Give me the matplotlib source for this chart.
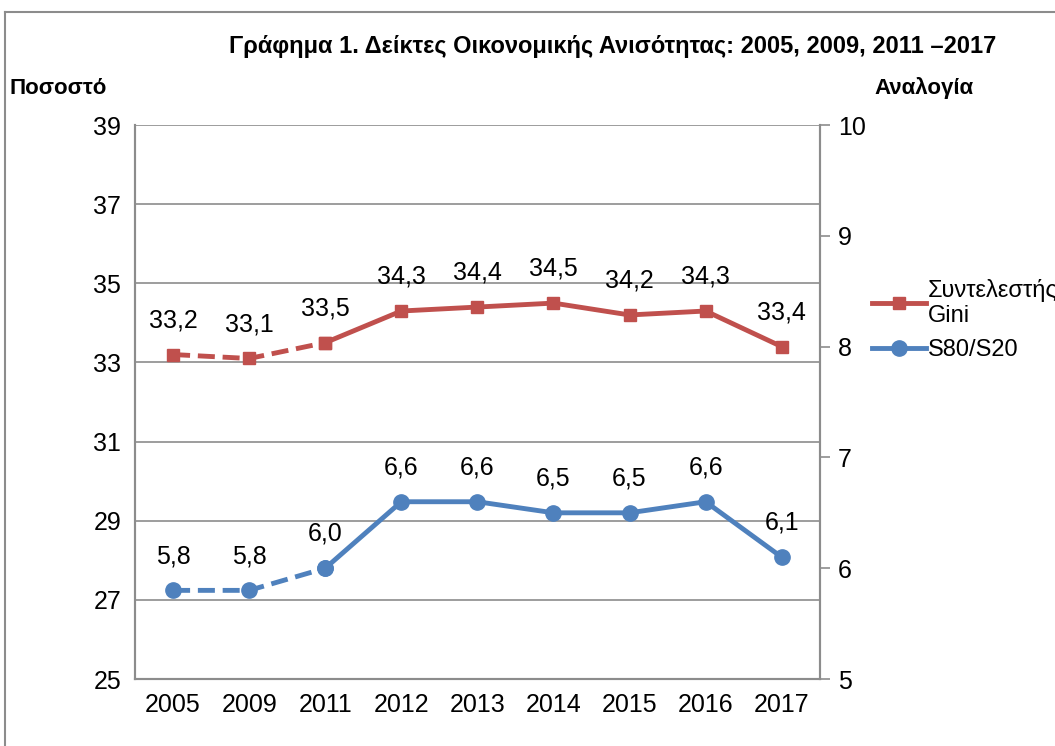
import matplotlib.pyplot as plt
from matplotlib.lines import Line2D

plt.rcParams['font.family'] = ['Liberation Sans', 'DejaVu Sans']

years = ['2005', '2009', '2011', '2012', '2013', '2014', '2015', '2016', '2017']
gini = [33.2, 33.1, 33.5, 34.3, 34.4, 34.5, 34.2, 34.3, 33.4]
s80s20 = [5.8, 5.8, 6.0, 6.6, 6.6, 6.5, 6.5, 6.6, 6.1]
dashed_until = 2  # 2005-2009-2011 drawn dashed

red = '#C0504D'
blue = '#4F81BD'
grey = '#8C8C8C'
dash = (0, (3.5, 1.6))

fig = plt.figure(figsize=(10.55, 7.46), dpi=100)
ax = fig.add_axes([0.128, 0.0898, 0.649, 0.7426])
ax2 = ax.twinx()

x = list(range(len(years)))

# Gini on left axis
ax.plot(x[:dashed_until + 1], gini[:dashed_until + 1], color=red, lw=3.5, ls=dash,
        marker='s', ms=9, zorder=3)
ax.plot(x[dashed_until:], gini[dashed_until:], color=red, lw=3.5, marker='s', ms=9, zorder=3)
for xi, v in zip(x, gini):
    ax.annotate(f'{v:.1f}'.replace('.', ','), (xi, v), xytext=(0, 16), textcoords='offset points',
                ha='center', va='bottom', fontsize=18)

# S80/S20 on right axis
ax2.plot(x[:dashed_until + 1], s80s20[:dashed_until + 1], color=blue, lw=3.5, ls=dash,
         marker='o', ms=11, zorder=3)
ax2.plot(x[dashed_until:], s80s20[dashed_until:], color=blue, lw=3.5, marker='o', ms=11, zorder=3)
for xi, v in zip(x, s80s20):
    ax2.annotate(f'{v:.1f}'.replace('.', ','), (xi, v), xytext=(0, 16), textcoords='offset points',
                 ha='center', va='bottom', fontsize=18)

ax.set_xlim(-0.5, len(years) - 0.5)
ax.set_ylim(25, 39)
ax.set_yticks(range(25, 40, 2))
ax2.set_ylim(5, 10)
ax2.set_yticks(range(5, 11))
ax.set_xticks(x)
ax.set_xticklabels(years)

ax.grid(axis='y', color=grey, lw=1.2)
ax.set_axisbelow(True)
ax.tick_params(axis='y', length=0, pad=10, labelsize=18)
ax.tick_params(axis='x', length=0, pad=10, labelsize=18)
ax2.tick_params(axis='y', length=7, width=1.2, color=grey, pad=6, labelsize=18)

for a in (ax, ax2):
    a.spines['top'].set_visible(False)
    for side in ('left', 'bottom', 'right'):
        a.spines[side].set_color(grey)
        a.spines[side].set_linewidth(1.5)

fig.text(0.5805, 0.937, 'Γράφημα 1. Δείκτες Οικονομικής Ανισότητας: 2005, 2009, 2011 –2017',
         ha='center', va='center', fontsize=17, fontweight='bold')
fig.text(0.009, 0.882, 'Ποσοστό', ha='left', va='center', fontsize=16, fontweight='bold')
fig.text(0.829, 0.882, 'Αναλογία', ha='left', va='center', fontsize=16, fontweight='bold')

handles = [Line2D([], [], color=red, lw=3.5, marker='s', ms=9),
           Line2D([], [], color=blue, lw=3.5, marker='o', ms=11)]
fig.legend(handles, ['Συντελεστής\nGini', 'S80/S20'], loc='upper left',
           bbox_to_anchor=(0.806, 0.655), frameon=False, fontsize=17,
           handlelength=2.3, handletextpad=0.1, labelspacing=0.5)

# outer frame (left and top edges visible)
fig.add_artist(Line2D([0.005, 0.005], [0.0, 0.984], color=grey, lw=1.5, transform=fig.transFigure))
fig.add_artist(Line2D([0.005, 1.0], [0.984, 0.984], color=grey, lw=1.5, transform=fig.transFigure))

fig.savefig('out.png', dpi=100)
